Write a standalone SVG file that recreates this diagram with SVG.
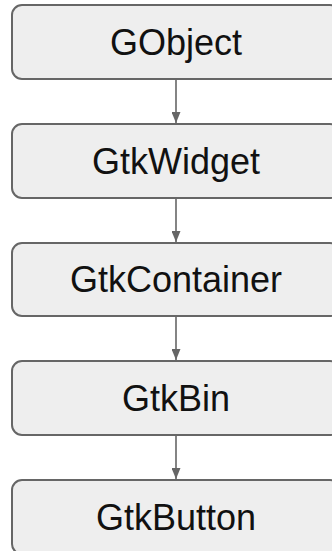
<svg xmlns="http://www.w3.org/2000/svg" width="332" height="551" viewBox="0 0 332 551">
<defs>
<style>
.box{fill:#eeeeee;stroke:#666666;stroke-width:2}
.lbl{font-family:"Liberation Sans",Arial,sans-serif;font-size:36px;fill:#111111;text-anchor:middle}
.edge{stroke:#666666;stroke-width:1.6;fill:none}
</style>
<marker id="ah" viewBox="0 0 11 9" refX="11" refY="4.5" markerWidth="11" markerHeight="9" markerUnits="userSpaceOnUse" orient="auto">
<path d="M0,0 L11,4.5 L0,9 z" fill="#666666"/>
</marker>
</defs>
<g id="connectors">
<line class="edge" x1="176" y1="80" x2="176" y2="123" marker-end="url(#ah)"/>
<line class="edge" x1="176" y1="199" x2="176" y2="242" marker-end="url(#ah)"/>
<line class="edge" x1="176" y1="317" x2="176" y2="360" marker-end="url(#ah)"/>
<line class="edge" x1="176" y1="436" x2="176" y2="479" marker-end="url(#ah)"/>
</g>
<g id="GObject">
<rect class="box" x="12" y="5" width="328" height="74" rx="10"/>
<text class="lbl" x="176" y="55">GObject</text>
</g>
<g id="GtkWidget">
<rect class="box" x="12" y="124" width="328" height="74" rx="10"/>
<text class="lbl" x="176" y="174">GtkWidget</text>
</g>
<g id="GtkContainer">
<rect class="box" x="12" y="243" width="328" height="73" rx="10"/>
<text class="lbl" x="176" y="292">GtkContainer</text>
</g>
<g id="GtkBin">
<rect class="box" x="12" y="361" width="328" height="74" rx="10"/>
<text class="lbl" x="176" y="411">GtkBin</text>
</g>
<g id="GtkButton">
<rect class="box" x="12" y="480" width="328" height="74" rx="10"/>
<text class="lbl" x="176" y="530">GtkButton</text>
</g>
</svg>
